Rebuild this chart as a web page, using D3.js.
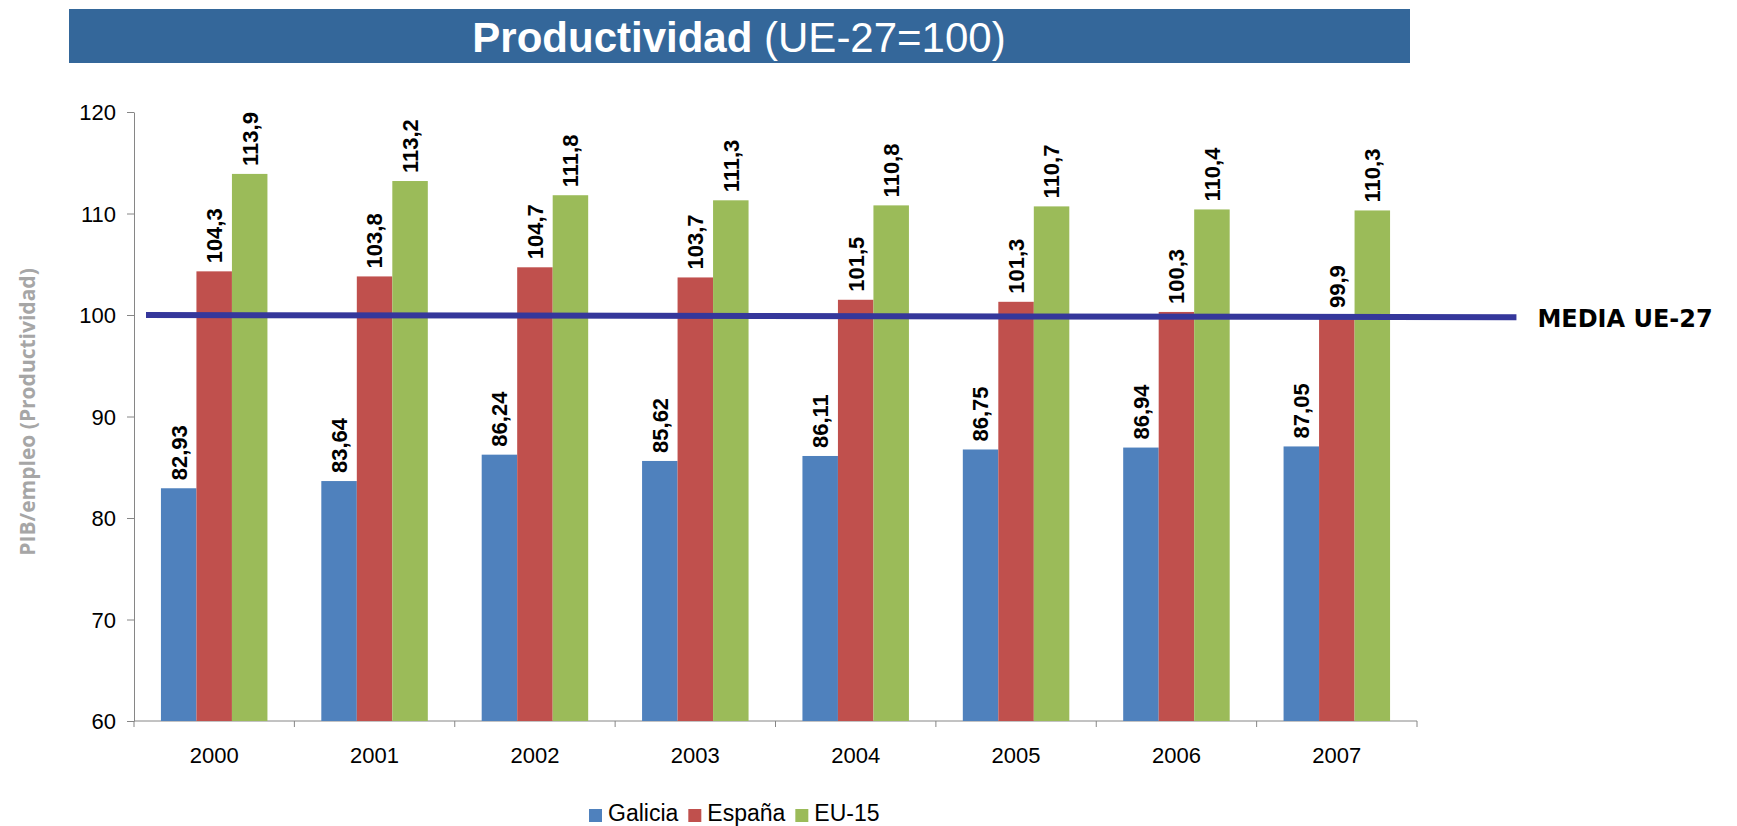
<!DOCTYPE html>
<html lang="es">
	<head>
		<meta charset="utf-8">
		<title>Productividad (UE-27=100)</title>
		<script type="text/javascript" src="https://cdn.jsdelivr.net/npm/d3@7"></script>
		<style type="text/css">
			body{margin:0;background-color:#fff;}
			svg{display:block;font-family:"Liberation Sans", Arial, sans-serif;}
			.axis path, .axis line{stroke:#868686;stroke-width:1;}
			.axis text{font-size:22px;fill:#000;}
		</style>
	</head>
	<body>
		<script type="text/javascript">

			// data
			var years = ["2000", "2001", "2002", "2003", "2004", "2005", "2006", "2007"];
			var series = ["Galicia", "España", "EU-15"];
			var galicia = [82.93, 83.64, 86.24, 85.62, 86.11, 86.75, 86.94, 87.05];
			var espana = [104.3, 103.8, 104.7, 103.7, 101.5, 101.3, 100.3, 99.9];
			var eu15 = [113.9, 113.2, 111.8, 111.3, 110.8, 110.7, 110.4, 110.3];
			var yTicks = [60, 70, 80, 90, 100, 110, 120];
			// hand drawn reference line, in category units
			var meanLine = [{pos: 0.075, value: 100}, {pos: 8.62, value: 99.78}];

			var colors = ["#4F81BD", "#C0504D", "#9BBB59"];

			var w = 1737;
			var h = 826;
			var plotL = 134, plotR = 1417, plotT = 112, plotB = 721;

			var svg = d3.select("body")
						.append("svg")
						.attr("width", w)
						.attr("height", h);

			// title bar
			svg.append("rect")
			   .attr("x", 69)
			   .attr("y", 9)
			   .attr("width", 1341)
			   .attr("height", 54)
			   .style("fill", "#34679A");

			var title = svg.append("text")
						   .attr("x", 739)
						   .attr("y", 52)
						   .attr("text-anchor", "middle")
						   .style("font-size", "42px")
						   .style("fill", "#fff");
			title.append("tspan").style("font-weight", "bold").text("Productividad");
			title.append("tspan").text(" (UE-27=100)");

			var x0 = d3.scaleBand()
					   .domain(years)
					   .range([plotL, plotR])
					   .paddingInner(0.336)
					   .paddingOuter(0.168);

			var x1 = d3.scaleBand()
					   .domain(series)
					   .range([0, x0.bandwidth()]);

			var xLin = d3.scaleLinear()
						 .domain([0, years.length])
						 .range([plotL, plotR]);

			var y = d3.scaleLinear()
					  .domain([60, 120])
					  .range([plotB, plotT]);

			// y axis
			var yAxis = svg.append("g")
						   .attr("class", "axis")
						   .attr("transform", "translate(" + plotL + ",0)")
						   .call(d3.axisLeft(y).tickValues(yTicks).tickSize(7).tickSizeOuter(0).tickPadding(11));
			yAxis.selectAll("text").attr("dy", "0.36em");

			// x axis: ticks on category borders
			var xAxis = svg.append("g")
						   .attr("class", "axis")
						   .attr("transform", "translate(0," + plotB + ")");
			xAxis.append("line")
				 .attr("x1", plotL).attr("x2", plotR)
				 .attr("y1", 0).attr("y2", 0);
			xAxis.selectAll(".brd")
				 .data(d3.range(years.length + 1))
				 .enter()
				 .append("line")
				 .attr("x1", function(d) { return xLin(d); })
				 .attr("x2", function(d) { return xLin(d); })
				 .attr("y1", 0)
				 .attr("y2", 6);
			xAxis.selectAll(".yr")
				 .data(years)
				 .enter()
				 .append("text")
				 .attr("x", function(d) { return x0(d) + x0.bandwidth() / 2; })
				 .attr("y", 42)
				 .attr("text-anchor", "middle")
				 .text(function(d) { return d; });

			// bars
			var table = years.map(function(yr, i) {
				return {year: yr, vals: [
					{s: series[0], v: galicia[i], c: colors[0]},
					{s: series[1], v: espana[i], c: colors[1]},
					{s: series[2], v: eu15[i], c: colors[2]}
				]};
			});

			var groups = svg.selectAll(".grp")
							.data(table)
							.enter()
							.append("g")
							.attr("transform", function(d) { return "translate(" + x0(d.year) + ",0)"; });

			groups.selectAll("rect")
				  .data(function(d) { return d.vals; })
				  .enter()
				  .append("rect")
				  .attr("x", function(d) { return x1(d.s); })
				  .attr("y", function(d) { return y(d.v); })
				  .attr("width", x1.bandwidth())
				  .attr("height", function(d) { return plotB - y(d.v); })
				  .style("fill", function(d) { return d.c; });

			// value labels
			groups.selectAll(".lbl")
				  .data(function(d) { return d.vals; })
				  .enter()
				  .append("text")
				  .attr("transform", function(d) {
					  return "translate(" + (x1(d.s) + x1.bandwidth() / 2) + "," + (y(d.v) - 8) + ") rotate(-90)";
				  })
				  .attr("dy", "0.36em")
				  .style("font-size", "22px")
				  .style("font-weight", "bold")
				  .style("fill", "#000")
				  .text(function(d) { return String(d.v).replace(".", ","); });

			// media UE-27 line
			var line = d3.line()
						 .x(function(d) { return xLin(d.pos); })
						 .y(function(d) { return y(d.value); });

			svg.append("path")
			   .datum(meanLine)
			   .attr("d", line)
			   .style("fill", "none")
			   .style("stroke", "#35379B")
			   .style("stroke-width", 6);

			svg.append("text")
			   .attr("x", xLin(meanLine[1].pos) + 21)
			   .attr("y", 327)
			   .style("font-family", "'DejaVu Sans', Verdana, sans-serif")
			   .style("font-weight", "bold")
			   .style("font-size", "24px")
			   .style("fill", "#000")
			   .text("MEDIA UE-27");

			// y axis title
			svg.append("text")
			   .attr("transform", "translate(35,412) rotate(-90)")
			   .attr("text-anchor", "middle")
			   .style("font-family", "'Open Sans', sans-serif")
			   .style("font-weight", "bold")
			   .style("font-size", "21px")
			   .style("fill", "#A6A6A6")
			   .text("PIB/empleo (Productividad)");

			// legend
			var legend = svg.append("g");
			var lx = 589;
			series.forEach(function(s, i) {
				legend.append("rect")
					  .attr("x", lx)
					  .attr("y", 809)
					  .attr("width", 13)
					  .attr("height", 13)
					  .style("fill", colors[i]);
				var t = legend.append("text")
							  .attr("x", lx + 19)
							  .attr("y", 821)
							  .style("font-size", "23px")
							  .style("fill", "#000")
							  .text(s);
				lx = lx + 19 + t.node().getComputedTextLength() + 10;
			});

		</script>
	</body>
</html>
